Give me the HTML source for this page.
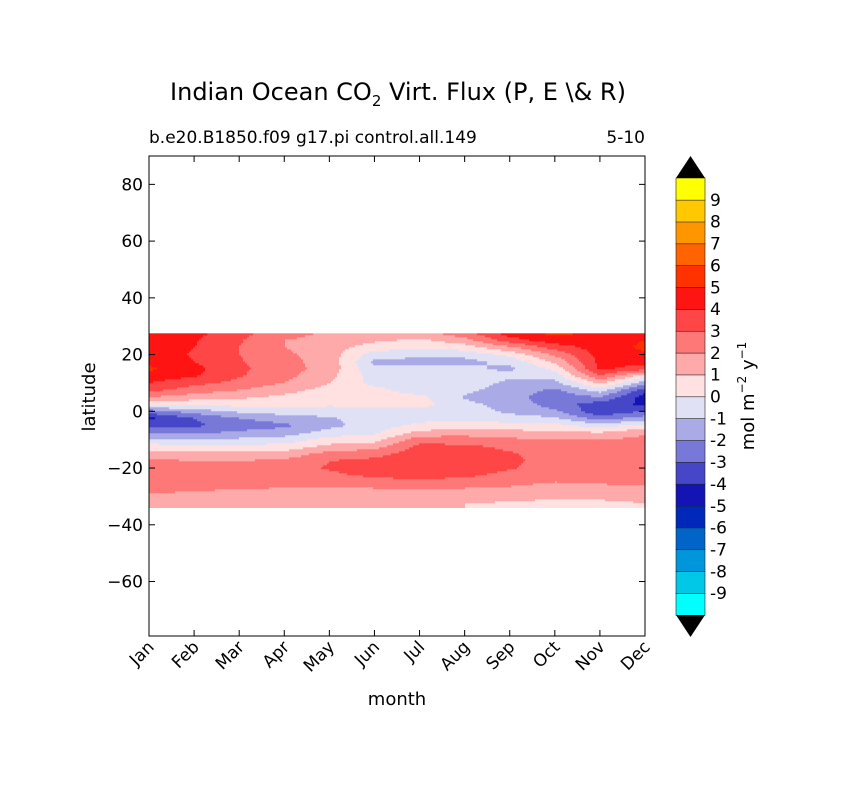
<!DOCTYPE html>
<html><head><meta charset="utf-8"><style>
body{margin:0;background:#fff;}
svg{display:block;font-family:"DejaVu Sans","Liberation Sans",sans-serif;}
</style></head><body>
<svg id="chart" width="841" height="788" viewBox="0 0 841 788">
<text x="398" y="100" font-size="24" text-anchor="middle">Indian Ocean CO<tspan font-size="15" dy="6">2</tspan><tspan dy="-6"> Virt. Flux (P, E \&amp; R)</tspan></text>
<text x="149" y="143" font-size="17">b.e20.B1850.f09 g17.pi control.all.149</text>
<text x="645" y="143" font-size="17" text-anchor="end">5-10</text>
<g id="field"></g>
<g id="axes"></g>
<text x="397" y="705" font-size="18" text-anchor="middle">month</text>
<text transform="translate(95,397) rotate(-90)" font-size="18" text-anchor="middle">latitude</text>
<g id="cbar"></g>
<text transform="translate(754,396) rotate(-90)" font-size="18" text-anchor="middle">mol m<tspan font-size="12" dy="-8">−2</tspan><tspan dy="8">  y</tspan><tspan font-size="12" dy="-8">−1</tspan></text>
</svg>
<script>
const months=["Jan","Feb","Mar","Apr","May","Jun","Jul","Aug","Sep","Oct","Nov","Dec"];
const lats=[27.5,25,22.5,20,17.5,15,12.5,10,7.5,5,2.5,0,-2.5,-5,-7.5,-10,-12.5,-15,-17.5,-20,-22.5,-25,-27.5,-30,-32.5];
const fluxJan=[4.5,4.6,4.6,4.6,4.7,5.2,4.6,4.0,3.3,2.0,0.5,-2.5,-4.2,-3.5,-2.2,-0.8,0.5,1.5,2.2,2.5,2.5,2.5,2.3,1.8,1.5];
const fluxFeb=[4.3,4.1,4.0,3.9,4.0,4.3,4.1,3.3,2.5,1.5,0.3,-1.5,-3.0,-3.2,-2.2,-1.0,0.3,1.3,2.0,2.4,2.5,2.4,2.1,1.7,1.3];
const fluxMar=[3.3,3.1,3.0,3.0,3.1,3.2,3.1,2.7,2.0,1.2,0.4,-0.8,-2.0,-2.6,-1.8,-0.8,0.3,1.2,2.0,2.4,2.5,2.4,2.0,1.6,1.2];
const fluxApr=[2.5,2.0,2.0,2.2,2.3,2.4,2.3,2.0,1.3,0.8,0.3,-0.5,-1.5,-2.2,-1.5,-0.6,0.4,1.4,2.2,2.6,2.6,2.4,1.9,1.5,1.2];
const fluxMay=[1.8,1.5,1.5,1.5,1.6,1.6,1.3,1.0,0.7,0.5,0.2,-0.5,-1.1,-1.3,-0.6,0.4,1.3,2.4,3.0,3.1,2.8,2.3,1.8,1.4,1.1];
const fluxJun=[1.5,1.2,0.5,-0.5,-1.2,-0.8,-0.5,-0.3,0.3,0.5,0.2,-0.3,-0.6,-0.5,-0.2,0.6,1.6,2.6,3.3,3.5,3.2,2.6,1.9,1.4,1.1];
const fluxJul=[1.6,0.8,0.2,-0.8,-1.3,-0.7,-0.2,-0.4,-0.6,0.3,0.4,-0.3,-0.3,0.2,1.3,2.6,3.3,3.6,3.8,3.7,3.4,2.7,2.0,1.4,1.0];
const fluxAug=[2.6,1.6,0.5,-0.7,-1.3,-0.8,-0.5,-0.5,-0.8,-1.1,-0.8,-0.5,-0.2,0.5,1.5,2.5,3.2,3.5,3.6,3.5,3.2,2.6,1.9,1.4,1.0];
const fluxSep=[4.5,3.5,1.8,0.3,-0.7,-1.2,-0.8,-1.2,-1.4,-1.5,-1.3,-1.2,-0.6,0.4,1.3,2.2,2.8,3.1,3.2,3.1,2.7,2.3,1.8,1.3,0.9];
const fluxOct=[5.3,4.6,3.4,2.2,1.2,0.3,-0.5,-1.3,-2.2,-2.7,-2.5,-1.8,-0.8,0.3,1.3,2.0,2.4,2.6,2.6,2.5,2.3,2.0,1.5,1.1,0.8];
const fluxNov=[4.7,4.6,4.5,4.4,4.3,4.2,3.0,1.2,-0.5,-2.0,-3.5,-3.8,-2.5,-0.5,1.0,2.0,2.4,2.6,2.6,2.5,2.3,2.1,1.7,1.2,0.8];
const fluxDec=[4.8,5.0,5.2,4.8,4.4,3.5,0.5,-1.5,-3.5,-4.5,-4.2,-3.0,-1.5,0.3,1.8,2.3,2.6,2.7,2.7,2.6,2.4,2.2,1.8,1.3,1.0];
const yTicks=[80,60,40,20,0,-20,-40,-60];
const cbLabels=[9,8,7,6,5,4,3,2,1,0,-1,-2,-3,-4,-5,-6,-7,-8,-9];
const bandColors=["#00ffff","#00c8e6","#0096dc","#0064c8","#0028bb","#1414b4","#4646c8","#7878d8","#aaaae6","#e1e1f5","#ffe1e1","#ffaaaa","#ff7878","#ff4646","#ff1414","#ff3200","#ff6400","#ff9600","#ffc800","#ffff00"];

const cols=[fluxJan,fluxFeb,fluxMar,fluxApr,fluxMay,fluxJun,fluxJul,fluxAug,fluxSep,fluxOct,fluxNov,fluxDec];
const NS="http://www.w3.org/2000/svg";
const X0=149,X1=645,Y0=156,Y1=636,LATTOP=90,LATBOT=-79.2;
function xs(i){return X0+(X1-X0)*i/(months.length-1);}
function ys(l){return Y0+(LATTOP-l)*(Y1-Y0)/(LATTOP-LATBOT);}
function colorFor(v){let k=Math.floor(v)+10;k=Math.max(0,Math.min(19,k));return bandColors[k];}
function val(mi,lat){
  let m0=Math.floor(mi),m1=Math.min(m0+1,cols.length-1),fm=mi-m0;
  let r=(lats[0]-lat)/(lats[0]-lats[1]);r=Math.max(0,Math.min(lats.length-1,r));
  let r0=Math.floor(r),r1=Math.min(r0+1,lats.length-1),fr=r-r0;
  const a=cols[m0][r0]*(1-fr)+cols[m0][r1]*fr;
  const b=cols[m1][r0]*(1-fr)+cols[m1][r1]*fr;
  return a*(1-fm)+b*fm;
}
const field=document.getElementById("field");
const topY=ys(lats[0]),botY=ys(-33.9);
const dx=2,dy=2;
for(let y=topY;y<botY;y+=dy){
  const lat=LATTOP-(y+dy/2-Y0)*(LATTOP-LATBOT)/(Y1-Y0);
  let runStart=X0,runCol=null;
  for(let x=X0;x<=X1;x+=dx){
    let c=null;
    if(x<X1){const mi=(x+dx/2-X0)/(X1-X0)*(months.length-1);c=colorFor(val(mi,lat));}
    if(c!==runCol){
      if(runCol){const r=document.createElementNS(NS,"rect");
        r.setAttribute("x",runStart);r.setAttribute("y",y);r.setAttribute("width",Math.min(x,X1)-runStart+0.5);r.setAttribute("height",Math.min(dy,botY-y)+0.5);r.setAttribute("fill",runCol);
        
        
        field.appendChild(r);}
      runStart=x;runCol=c;
    }
  }
}
const axes=document.getElementById("axes");
function el(tag,attrs,parent){const e=document.createElementNS(NS,tag);for(const k in attrs)e.setAttribute(k,attrs[k]);parent.appendChild(e);return e;}
const frame=el("rect",{x:X0,y:Y0,width:X1-X0,height:Y1-Y0,fill:"none",stroke:"#000","stroke-width":1},axes);


yTicks.forEach(t=>{
  const y=ys(t);
  el("line",{x1:X0,x2:X0+6,y1:y,y2:y,stroke:"#000"},axes);
  el("line",{x1:X1,x2:X1-6,y1:y,y2:y,stroke:"#000"},axes);
  const tx=el("text",{x:X0-6,y:y+6,"font-size":17,"text-anchor":"end"},axes);
  tx.textContent=t<0?"\u2212"+(-t):String(t);
  
  
});
months.forEach((m,i)=>{
  const x=xs(i);
  el("line",{x1:x,x2:x,y1:Y1,y2:Y1-6,stroke:"#000"},axes);
  el("line",{x1:x,x2:x,y1:Y0,y2:Y0+6,stroke:"#000"},axes);
  const tx=el("text",{transform:`translate(${x+6},${Y1+12}) rotate(-45)`,"font-size":17,"text-anchor":"end"},axes);
  tx.textContent=m;
  
  
});
const cb=document.getElementById("cbar");
const CX0=676,CX1=705,CT=178,CB=615;
const bh=(CB-CT)/bandColors.length;
bandColors.forEach((c,k)=>{
  const r=el("rect",{x:CX0,y:CB-(k+1)*bh,width:CX1-CX0,height:bh+0.3,fill:c,stroke:"#222","stroke-width":0.6},cb);
  
  
});
const tri1=el("polygon",{points:`${CX0},${CT} ${CX1},${CT} ${(CX0+CX1)/2},${Y0}`,fill:"#000"},cb);


const tri2=el("polygon",{points:`${CX0},${CB} ${CX1},${CB} ${(CX0+CX1)/2},${Y1+1}`,fill:"#000"},cb);


cbLabels.forEach(v=>{
  const y=CB-(v+10)*bh;
  const t=el("text",{x:CX1+5,y:y+6,"font-size":17},cb);
  t.textContent=String(v);
  
  
});
</script>
</body></html>
